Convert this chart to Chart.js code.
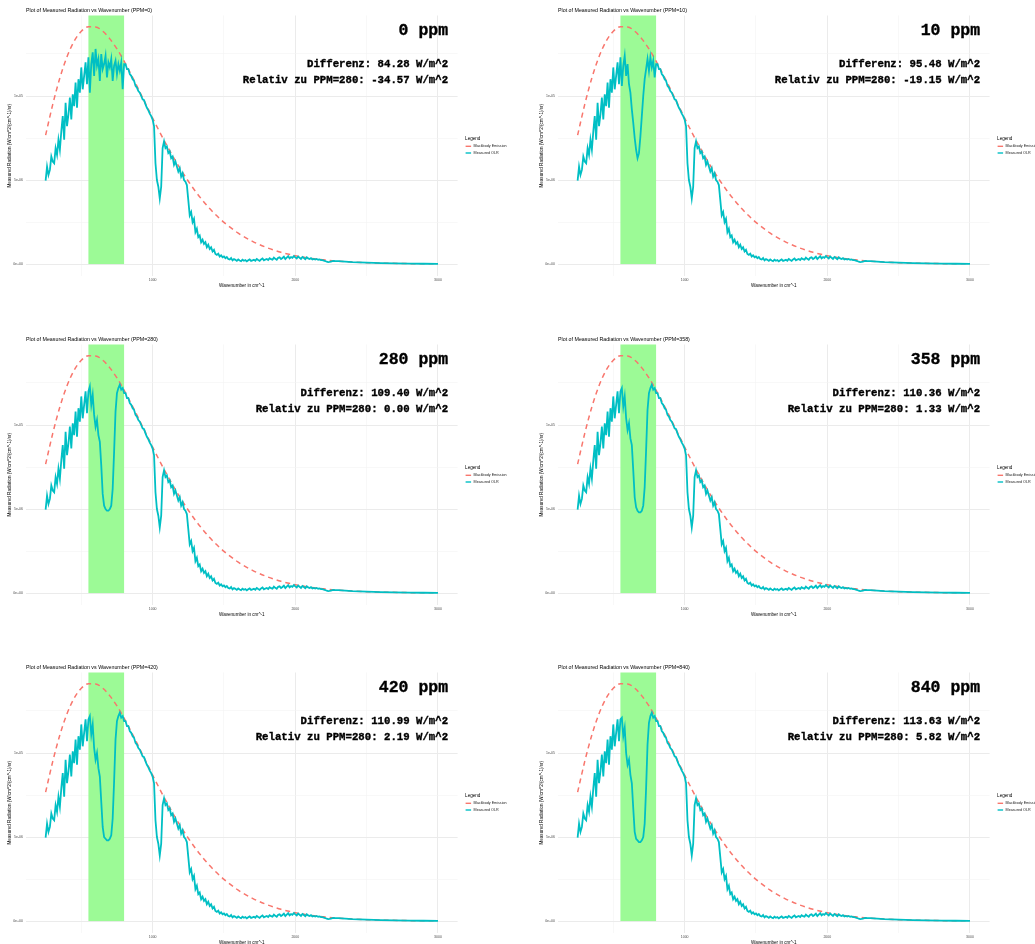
<!DOCTYPE html>
<html>
<head>
<meta charset="utf-8">
<script src="https://cdn.jsdelivr.net/npm/chart.js@4.4.0/dist/chart.umd.min.js"></script>
<style>
  html, body { margin: 0; padding: 0; background: #fff; width: 1035px; height: 944px; overflow: hidden; }
  #wrap { position: relative; width: 1035px; height: 944px; overflow: hidden; }
  canvas { position: absolute; }
</style>
</head>
<body>
<div id="wrap"></div>
<script>
// values in 1e-6 W/cm^2/(cm^-1)/sr
const ppmLevels = [0, 10, 280, 358, 420, 840];
const differenz = [84.28, 95.48, 109.40, 110.36, 110.99, 113.63];
const relativ = [-34.57, -19.15, 0.00, 1.33, 2.19, 5.82];
const bandRange = [550, 800];

// blackbody emission
const bbWn = [250, 300, 350, 400, 450, 500, 550, 600, 650, 700, 750, 800, 850, 900, 950, 1000,
  1050, 1100, 1150, 1200, 1250, 1300, 1350, 1400, 1450, 1500, 1600, 1700, 1800, 1900, 2000,
  2100, 2200, 2300, 2400, 2500, 2600, 2800, 3000];
const bbVal = [7.67, 9.50, 11.08, 12.34, 13.26, 13.85, 14.12, 14.11, 13.86, 13.40, 12.80, 12.07, 11.27, 10.42, 9.55, 8.69,
  7.85, 7.05, 6.29, 5.58, 4.93, 4.33, 3.79, 3.30, 2.87, 2.48, 1.84, 1.35, 0.98, 0.70, 0.50,
  0.35, 0.25, 0.17, 0.12, 0.083, 0.057, 0.027, 0.012];

// measured OLR, every 10 cm^-1 from 250
const wnStart = 250, wnStep = 10;
const olrLow = [
  4.96, 5.8, 5.3, 5.6, 6.4, 6.1, 6.0, 6.9, 6.5, 7.4,
  6.8, 7.9, 8.8, 7.4, 9.6, 8.2, 8.9, 9.9, 8.6, 10.1,
  9.4, 10.8, 9.3, 11.0, 10.2, 11.7, 10.4, 11.2, 12.0, 10.7
];
// 550..800 for each ppm level
const bandPpm0 = [12.3, 10.2, 11.9, 12.6, 11.2, 12.8, 11.8, 12.2, 10.9, 12.5, 11.6, 11.9, 12.4, 11.1, 12.0, 11.7, 12.2, 10.9, 11.8, 12.1, 11.3, 11.9, 11.5, 12.0, 10.4, 11.9];
const bandPpm10 = [12.3, 10.6, 11.8, 12.4, 11.2, 11.9, 10.7, 10.2, 9.2, 8.4, 7.5, 6.8, 6.3, 6.6, 7.6, 8.8, 10.0, 11.0, 11.6, 12.2, 11.5, 12.3, 11.7, 12.1, 11.1, 11.9];
const bandPpm280 = [12.0, 12.3, 11.2, 11.8, 10.6, 9.9, 10.3, 9.4, 9.0, 7.6, 5.9, 5.2, 5.0, 4.9, 4.9, 5.0, 5.2, 6.2, 8.4, 10.8, 11.9, 12.2, 12.4, 12.1, 12.2, 11.9];
const bandPpm358 = [12.0, 12.2, 11.1, 11.7, 10.4, 9.7, 10.1, 9.2, 8.8, 7.3, 5.7, 5.1, 4.9, 4.8, 4.8, 4.9, 5.2, 6.3, 8.5, 10.9, 11.9, 12.2, 12.4, 12.1, 12.2, 11.9];
const bandPpm420 = [12.0, 12.2, 11.1, 11.7, 10.3, 9.6, 10.0, 9.1, 8.6, 7.1, 5.6, 5.0, 4.9, 4.8, 4.8, 4.9, 5.1, 6.1, 8.3, 10.8, 11.9, 12.2, 12.4, 12.1, 12.2, 11.9];
const bandPpm840 = [12.0, 12.1, 11.0, 11.5, 10.0, 9.3, 9.6, 8.7, 8.2, 6.7, 5.3, 4.9, 4.8, 4.7, 4.7, 4.8, 5.0, 5.8, 7.9, 10.5, 11.8, 12.2, 12.4, 12.1, 12.2, 11.9];
const bandSeries = [bandPpm0, bandPpm10, bandPpm280, bandPpm358, bandPpm420, bandPpm840];
// 810..2300
const olrHigh = [
  11.9, 11.6, 11.6, 11.3, 11.2, 11.0, 10.9, 10.6, 10.5, 10.3,
  10.2, 10.0, 9.8, 9.75, 9.5, 9.3, 9.15, 8.95, 8.8, 8.6,
  8.2, 6.0, 5.0, 4.6, 3.9, 4.6, 6.9, 7.3, 6.9, 7.0,
  6.6, 6.7, 6.3, 6.4, 5.9, 6.1, 5.8, 5.5, 5.7, 5.2,
  5.4, 5.0, 4.9, 4.7, 3.8, 2.9, 3.1, 2.5, 2.7, 1.9,
  2.1, 1.6, 1.7, 1.3, 1.45, 1.2, 1.3, 1.0, 1.15, 0.9,
  1.0, 0.75, 0.85, 0.6, 0.55, 0.62, 0.45, 0.52, 0.4, 0.45,
  0.35, 0.42, 0.30, 0.27, 0.36, 0.22, 0.30, 0.25, 0.19, 0.27,
  0.21, 0.17, 0.26, 0.2, 0.24, 0.16, 0.23, 0.28, 0.19, 0.22,
  0.26, 0.2, 0.3, 0.24, 0.19, 0.28, 0.33, 0.22, 0.27, 0.3,
  0.24, 0.35, 0.29, 0.26, 0.38, 0.31, 0.25, 0.37, 0.4, 0.3,
  0.36, 0.44, 0.3, 0.39, 0.47, 0.34, 0.42, 0.37, 0.48, 0.4,
  0.33, 0.45, 0.38, 0.31, 0.42, 0.36, 0.29, 0.4, 0.34, 0.3,
  0.35, 0.28, 0.31, 0.27, 0.3, 0.26, 0.28, 0.24, 0.23, 0.2,
  0.18, 0.14, 0.12, 0.13, 0.15, 0.17, 0.19, 0.18, 0.17, 0.17
];
const tailWn = [2350, 2400, 2500, 2600, 2700, 2800, 2900, 3000];
const tailVal = [0.15, 0.12, 0.083, 0.057, 0.04, 0.027, 0.018, 0.012];

const xTicks = [500, 1000, 1500, 2000, 2500, 3000];
const xMajor = [1000, 2000, 3000];
const yTicks = [0, 2.5, 5, 7.5, 10, 12.5];
const yTickText = ['0e+00', '', '5e-06', '', '1e-05', ''];

const panelLeft = [0, 532];
const panelTop = [0, 329, 657];
const W = 532, H = 329;

const olrPoints = (band) => {
  const vals = olrLow.concat(band, olrHigh);
  const pts = vals.map((v, i) => ({ x: wnStart + i * wnStep, y: v }));
  tailWn.forEach((w, i) => pts.push({ x: w, y: tailVal[i] }));
  return pts;
};
const bbPoints = bbWn.map((w, i) => ({ x: w, y: bbVal[i] }));

const deco = {
  id: 'deco',
  beforeDatasetsDraw(chart, args, o) {
    const { ctx, chartArea: a, scales: { x, y } } = chart;
    const x0 = x.getPixelForValue(o.band[0]);
    const x1 = x.getPixelForValue(o.band[1]);
    const y0 = y.getPixelForValue(0);
    ctx.save();
    ctx.fillStyle = '#9cfa96';
    ctx.fillRect(x0, a.top, x1 - x0, y0 - a.top);
    ctx.restore();
  },
  afterDraw(chart, args, o) {
    const { ctx, chartArea: a } = chart;
    ctx.save();
    ctx.textBaseline = 'middle';
    // plot title
    ctx.fillStyle = '#000';
    ctx.textAlign = 'left';
    ctx.font = '5.3px "Liberation Sans"';
    ctx.fillText(o.title, a.left, 11);
    // axis titles
    ctx.font = '4.6px "Liberation Sans"';
    ctx.textAlign = 'center';
    ctx.fillText('Wavenumber in cm^-1', (a.left + a.right) / 2, a.bottom + 9.5);
    ctx.save();
    ctx.translate(10, (a.top + a.bottom) / 2);
    ctx.rotate(-Math.PI / 2);
    ctx.fillText('Measured Radiation (W/cm^2/(cm^-1)/sr)', 0, 0);
    ctx.restore();
    // annotations
    ctx.fillStyle = '#000';
    ctx.strokeStyle = '#000';
    ctx.lineWidth = 0.35;
    ctx.textAlign = 'right';
    const rx = a.right - 9.5;
    const lines = [
      ['bold 16.5px "Liberation Mono"', o.ppm + ' ppm', a.top + 15.5],
      ['bold 10.7px "Liberation Mono"', 'Differenz: ' + o.diff.toFixed(2) + ' W/m^2', a.top + 48.5],
      ['bold 10.7px "Liberation Mono"', 'Relativ zu PPM=280: ' + o.rel.toFixed(2) + ' W/m^2', a.top + 65.2],
    ];
    lines.forEach(([f, t, ty]) => {
      ctx.font = f;
      ctx.fillText(t, rx, ty);
      ctx.strokeText(t, rx, ty);
    });
    // legend
    const lx = a.right + 7.5;
    ctx.textAlign = 'left';
    ctx.fillStyle = '#000';
    ctx.font = '4.6px "Liberation Sans"';
    ctx.fillText('Legend', lx, 139);
    const items = [['Blackbody Emission', '#F8766D', 146.3], ['Measured OLR', '#00BFC4', 153]];
    ctx.font = '3.7px "Liberation Sans"';
    items.forEach(([label, col, ly]) => {
      ctx.strokeStyle = col;
      ctx.lineWidth = 1.4;
      ctx.beginPath();
      ctx.moveTo(lx + 0.5, ly);
      ctx.lineTo(lx + 6, ly);
      ctx.stroke();
      ctx.fillStyle = '#1a1a1a';
      ctx.fillText(label, lx + 8.5, ly);
    });
    ctx.restore();
  }
};

const wrap = document.getElementById('wrap');

ppmLevels.forEach((ppm, i) => {
  const canvas = document.createElement('canvas');
  canvas.width = W;
  canvas.height = H;
  canvas.style.left = panelLeft[i % 2] + 'px';
  canvas.style.top = panelTop[Math.floor(i / 2)] + 'px';
  wrap.appendChild(canvas);

  new Chart(canvas, {
    type: 'line',
    data: {
      datasets: [
        {
          label: 'Measured OLR',
          data: olrPoints(bandSeries[i]),
          borderColor: '#00BFC4',
          borderWidth: 1.8,
          pointRadius: 0,
          tension: 0,
          order: 0,
        },
        {
          label: 'Blackbody Emission',
          data: bbPoints,
          borderColor: '#F8766D',
          borderWidth: 1.5,
          borderDash: [5, 4],
          pointRadius: 0,
          cubicInterpolationMode: 'monotone',
          order: 1,
        },
      ],
    },
    options: {
      responsive: false,
      animation: false,
      events: [],
      layout: { padding: { left: 0, top: 15.5, right: W - 457.6, bottom: 0 } },
      scales: {
        x: {
          type: 'linear',
          min: 112.5,
          max: 3137.5,
          afterBuildTicks: (s) => { s.ticks = xTicks.map((v) => ({ value: v })); },
          afterFit: (s) => { s.height = H - 276; },
          ticks: {
            callback: (v) => (xMajor.includes(v) ? String(v) : ''),
            font: { size: 3.5, family: 'Liberation Sans' },
            color: '#4d4d4d',
            padding: 2,
            maxRotation: 0,
            autoSkip: false,
          },
          grid: {
            color: (c) => (xMajor.includes(c.tick.value) ? '#ebebeb' : '#f4f4f4'),
            lineWidth: (c) => (xMajor.includes(c.tick.value) ? 1 : 0.6),
            drawTicks: false,
          },
          border: { display: false },
        },
        y: {
          min: -0.71,
          max: 14.79,
          afterBuildTicks: (s) => { s.ticks = yTicks.map((v) => ({ value: v })); },
          afterFit: (s) => { s.width = 26; },
          ticks: {
            callback: (v, idx) => yTickText[idx],
            font: { size: 3.5, family: 'Liberation Sans' },
            color: '#4d4d4d',
            padding: 3,
            autoSkip: false,
          },
          grid: {
            color: (c) => (yTickText[c.index] ? '#ebebeb' : '#f4f4f4'),
            lineWidth: (c) => (yTickText[c.index] ? 1 : 0.6),
            drawTicks: false,
          },
          border: { display: false },
        },
      },
      plugins: {
        legend: { display: false },
        tooltip: { enabled: false },
        deco: {
          title: 'Plot of Measured Radiation vs Wavenumber (PPM=' + ppm + ')',
          ppm: ppm,
          diff: differenz[i],
          rel: relativ[i],
          band: bandRange,
        },
      },
    },
    plugins: [deco],
  });
});
</script>
</body>
</html>
